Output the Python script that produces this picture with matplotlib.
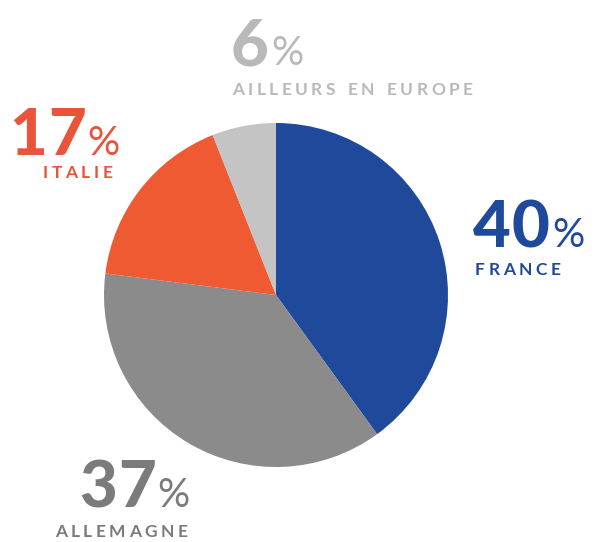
import matplotlib
matplotlib.use('Agg')
import matplotlib.pyplot as plt

categories = ['FRANCE', 'ALLEMAGNE', 'ITALIE', 'AILLEURS EN EUROPE']
values = [40, 37, 17, 6]
colors = ['#1f4a9b', '#8b8b8b', '#ef5a33', '#c4c4c4']
text_colors = ['#1f4a9b', '#7b7b7b', '#e9543a', '#b9b9b9']

W, H = 597, 542
fig = plt.figure(figsize=(W / 100, H / 100), dpi=100)
ax = fig.add_axes([0, 0, 1, 1])
ax.pie(values, colors=colors, startangle=-90, counterclock=True,
       center=(276, 295), radius=172, wedgeprops=dict(linewidth=0))
ax.set_xlim(0, W)
ax.set_ylim(H, 0)
ax.set_aspect('equal')
ax.axis('off')

renderer = fig.canvas.get_renderer()
FONT = 'Lato'


def width_of(t):
    return t.get_window_extent(renderer=renderer).width


def tracked(x, y, s, size, color, tracking, weight='bold'):
    cx = x
    for ch in s:
        if ch == ' ':
            cx += size * 1.389 * 0.3 + tracking
            continue
        t = ax.text(cx, y, ch, fontsize=size, color=color, fontweight=weight,
                    family=FONT, va='baseline', ha='left')
        cx += width_of(t) + tracking
    return cx


def pct(x, y, value, color):
    end = tracked(x, y, str(value), 47, color, 1, weight=900)
    ax.text(end + 1, y, '%', fontsize=29, fontweight='normal', color=color,
            family=FONT, va='baseline', ha='left')


# layout: (number x, number baseline, label x, label baseline)
layout = [
    (473, 247, 475, 275),
    (79, 507, 55, 537),
    (9, 155, 43, 178),
    (231, 65, 232, 95),
]

for cat, val, col, (nx, ny, lx, ly) in zip(categories, values, text_colors, layout):
    pct(nx, ny, val, col)
    tracked(lx, ly, cat, 12.5, col, 3.5)

fig.savefig('out.png', dpi=100, facecolor='white')
